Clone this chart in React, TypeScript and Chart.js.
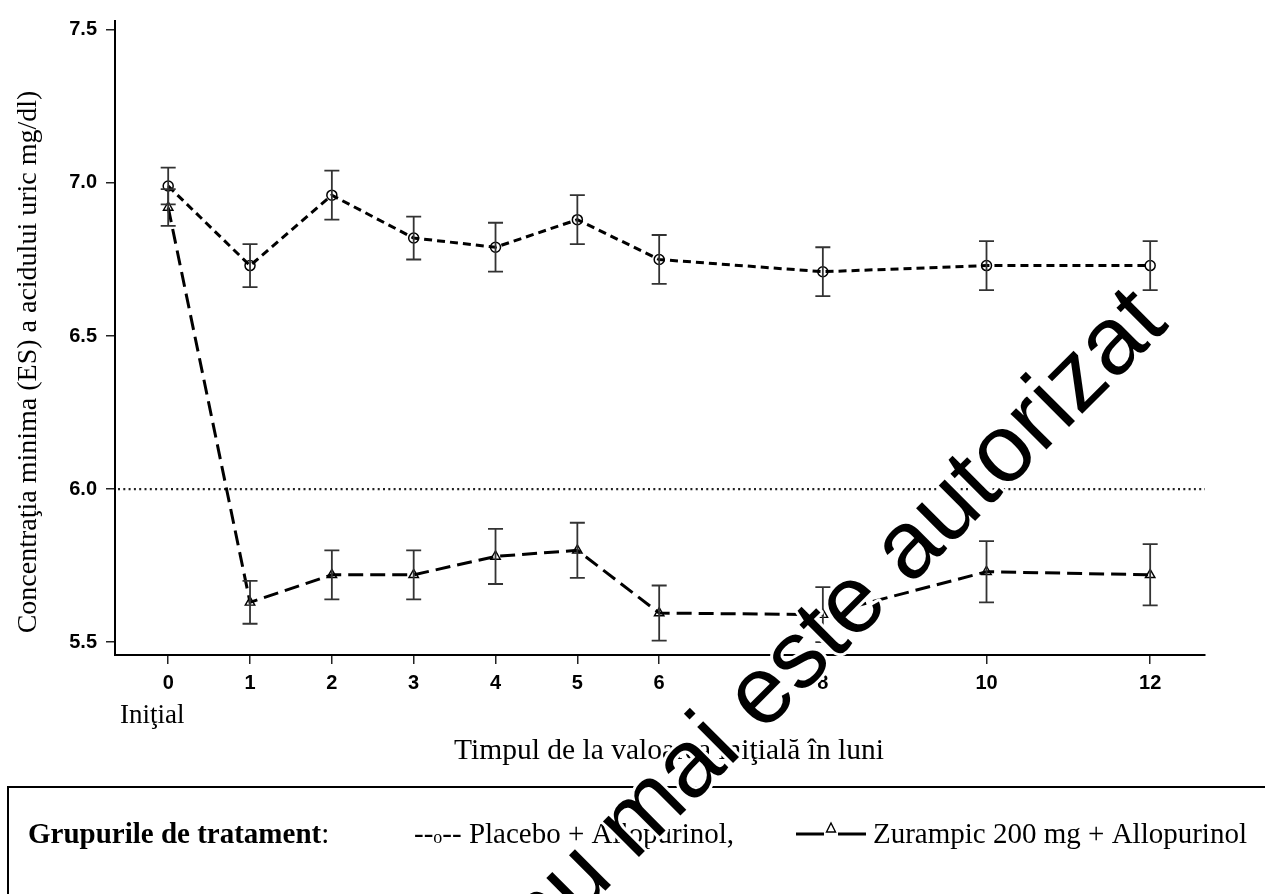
import React, { useEffect, useRef } from 'react';
import { Chart, registerables } from 'chart.js';

Chart.register(...registerables);

// ---- Data ----
const months = [0, 1, 2, 3, 4, 5, 6, 8, 10, 12];
const xTickValues = [0, 1, 2, 3, 4, 5, 6, 8, 10, 12];
const yTickValues = [5.5, 6.0, 6.5, 7.0, 7.5];
const placeboMean = [6.99, 6.73, 6.96, 6.82, 6.79, 6.88, 6.75, 6.71, 6.73, 6.73];
const placeboSE = [0.06, 0.07, 0.08, 0.07, 0.08, 0.08, 0.08, 0.08, 0.08, 0.08];
const zurampicMean = [6.92, 5.63, 5.72, 5.72, 5.78, 5.8, 5.595, 5.59, 5.73, 5.72];
const zurampicSE = [0.06, 0.07, 0.08, 0.08, 0.09, 0.09, 0.09, 0.09, 0.1, 0.1];
const referenceLevel = 6.0;

const yAxisTitle = 'Concentraţia minima (ES) a acidului uric mg/dl)';
const xAxisTitle = 'Timpul de la valoarea iniţială în luni';
const baselineLabel = 'Iniţial';
const legendTitle = 'Grupurile de tratament';
const placeboLabel = 'Placebo + Allopurinol,';
const zurampicLabel = 'Zurampic 200 mg + Allopurinol';
const watermarkText = 'nu mai este autorizat';

const SERIF = '"Liberation Serif", "Times New Roman", serif';
const SANS = '"Liberation Sans", Arial, sans-serif';

const refLinePlugin = {
  id: 'refLine',
  beforeDatasetsDraw(chart: any) {
    const { ctx, chartArea, scales } = chart;
    const y = scales.y.getPixelForValue(referenceLevel);
    ctx.save();
    ctx.strokeStyle = '#222';
    ctx.lineWidth = 2.2;
    ctx.setLineDash([2, 3.3]);
    ctx.beginPath();
    ctx.moveTo(chartArea.left + 3, y);
    ctx.lineTo(chartArea.right, y);
    ctx.stroke();
    ctx.restore();
  },
};

const errorBarPlugin = {
  id: 'errorBars',
  afterDatasetsDraw(chart: any) {
    const { ctx, scales } = chart;
    const xs = scales.x;
    const ys = scales.y;
    ctx.save();
    ctx.strokeStyle = '#333';
    ctx.lineWidth = 1.8;
    ctx.setLineDash([]);
    const draw = (means: number[], ses: number[]) => {
      months.forEach((m, i) => {
        const px = xs.getPixelForValue(m);
        const top = ys.getPixelForValue(means[i] + ses[i]);
        const bot = ys.getPixelForValue(means[i] - ses[i]);
        ctx.beginPath();
        ctx.moveTo(px, top);
        ctx.lineTo(px, bot);
        ctx.moveTo(px - 7.5, top);
        ctx.lineTo(px + 7.5, top);
        ctx.moveTo(px - 7.5, bot);
        ctx.lineTo(px + 7.5, bot);
        ctx.stroke();
      });
    };
    draw(placeboMean, placeboSE);
    draw(zurampicMean, zurampicSE);
    ctx.restore();
  },
};

const textPlugin = {
  id: 'texts',
  afterDraw(chart: any) {
    const { ctx } = chart;
    ctx.save();
    ctx.fillStyle = '#000';

    // Y axis title
    ctx.save();
    ctx.translate(29, 362);
    ctx.rotate(-Math.PI / 2);
    ctx.font = `28px ${SERIF}`;
    ctx.textAlign = 'center';
    ctx.textBaseline = 'middle';
    ctx.fillText(yAxisTitle, 0, 0);
    ctx.restore();

    // X axis title
    ctx.font = `29.5px ${SERIF}`;
    ctx.textAlign = 'center';
    ctx.textBaseline = 'alphabetic';
    ctx.fillText(xAxisTitle, 669, 759);

    // Baseline label under 0
    ctx.font = `27px ${SERIF}`;
    ctx.textAlign = 'left';
    ctx.fillText(baselineLabel, 120, 723);

    // Legend box
    ctx.strokeStyle = '#000';
    ctx.lineWidth = 2;
    ctx.strokeRect(8, 787, 1275, 200);

    const base = 843;
    ctx.textAlign = 'left';
    ctx.font = `bold 29px ${SERIF}`;
    ctx.fillText(legendTitle, 28, base);
    const w = ctx.measureText(legendTitle).width;
    ctx.font = `29px ${SERIF}`;
    ctx.fillText(':', 28 + w, base);

    // Placebo entry "--o-- Placebo + Allopurinol,"
    let px = 414;
    ctx.font = `29px ${SERIF}`;
    ctx.fillText('--', px, base);
    px += ctx.measureText('--').width;
    ctx.font = `18px ${SERIF}`;
    ctx.fillText('o', px, base);
    px += ctx.measureText('o').width;
    ctx.font = `29px ${SERIF}`;
    ctx.fillText('-- ' + placeboLabel, px, base);

    // Zurampic entry symbol
    ctx.lineWidth = 3;
    ctx.beginPath();
    ctx.moveTo(796, 834);
    ctx.lineTo(824, 834);
    ctx.moveTo(838, 834);
    ctx.lineTo(866, 834);
    ctx.stroke();
    ctx.lineWidth = 1.4;
    ctx.beginPath();
    ctx.moveTo(826.5, 832);
    ctx.lineTo(835.5, 832);
    ctx.lineTo(831, 823);
    ctx.closePath();
    ctx.stroke();
    ctx.fillText(zurampicLabel, 873, base);

    // Watermark
    ctx.save();
    ctx.translate(855, 641);
    ctx.rotate(-Math.PI / 4);
    ctx.font = `96px ${SANS}`;
    ctx.textAlign = 'center';
    ctx.textBaseline = 'alphabetic';
    ctx.lineJoin = 'round';
    ctx.strokeStyle = '#fff';
    ctx.lineWidth = 6;
    ctx.strokeText(watermarkText, 0, 0);
    ctx.fillStyle = '#000';
    ctx.fillText(watermarkText, 0, 0);
    ctx.restore();

    ctx.restore();
  },
};

export default function App() {
  const canvasRef = useRef<HTMLCanvasElement | null>(null);

  useEffect(() => {
    const canvas = canvasRef.current;
    if (!canvas) return;
    const tickFont = { family: SANS, weight: 'bold' as const, size: 20 };
    const chart = new Chart(canvas, {
      type: 'line',
      data: {
        datasets: [
          {
            label: placeboLabel,
            data: months.map((m, i) => ({ x: m, y: placeboMean[i] })),
            borderColor: '#000',
            borderWidth: 3,
            borderDash: [8, 5],
            pointStyle: 'circle',
            pointRadius: 5,
            pointBorderWidth: 1.5,
            pointBorderColor: '#000',
            pointBackgroundColor: 'rgba(0,0,0,0)',
            fill: false,
            tension: 0,
          },
          {
            label: zurampicLabel,
            data: months.map((m, i) => ({ x: m, y: zurampicMean[i] })),
            borderColor: '#000',
            borderWidth: 3,
            borderDash: [15, 7],
            pointStyle: 'triangle',
            pointRadius: 5.5,
            pointBorderWidth: 1.4,
            pointBorderColor: '#000',
            pointBackgroundColor: 'rgba(0,0,0,0)',
            fill: false,
            tension: 0,
          },
        ],
      },
      options: {
        responsive: false,
        animation: false,
        devicePixelRatio: 1,
        layout: { padding: { left: 0, top: 17, right: 60, bottom: 189 } },
        plugins: {
          legend: { display: false },
          tooltip: { enabled: false },
          title: { display: false },
        },
        scales: {
          x: {
            type: 'linear',
            min: -0.65,
            max: 12.67,
            afterBuildTicks: (s: any) => {
              s.ticks = xTickValues.map((v) => ({ value: v }));
            },
            afterFit: (s: any) => {
              s.height = 50;
            },
            ticks: {
              font: tickFont,
              color: '#000',
              padding: 7,
              autoSkip: false,
              maxRotation: 0,
              callback: (v: any) => String(v),
            },
            grid: {
              display: true,
              drawOnChartArea: false,
              drawTicks: true,
              tickLength: 9,
              color: '#222',
              lineWidth: 1.5,
            },
            border: { display: true, color: '#000', width: 2 },
          },
          y: {
            type: 'linear',
            min: 5.458,
            max: 7.529,
            afterBuildTicks: (s: any) => {
              s.ticks = yTickValues.map((v) => ({ value: v }));
            },
            afterFit: (s: any) => {
              s.width = 115;
            },
            ticks: {
              font: tickFont,
              color: '#000',
              padding: 9,
              callback: (v: any) => Number(v).toFixed(1),
            },
            grid: {
              display: true,
              drawOnChartArea: false,
              drawTicks: true,
              tickLength: 9,
              color: '#222',
              lineWidth: 1.5,
            },
            border: { display: true, color: '#000', width: 2 },
          },
        },
      },
      plugins: [refLinePlugin, errorBarPlugin, textPlugin],
    });
    return () => chart.destroy();
  }, []);

  return (
    <div style={{ position: 'fixed', left: 0, top: 0, width: 1265, height: 894, background: '#fff', overflow: 'hidden' }}>
      <canvas ref={canvasRef} width={1265} height={894} style={{ display: 'block', width: 1265, height: 894 }} />
    </div>
  );
}
